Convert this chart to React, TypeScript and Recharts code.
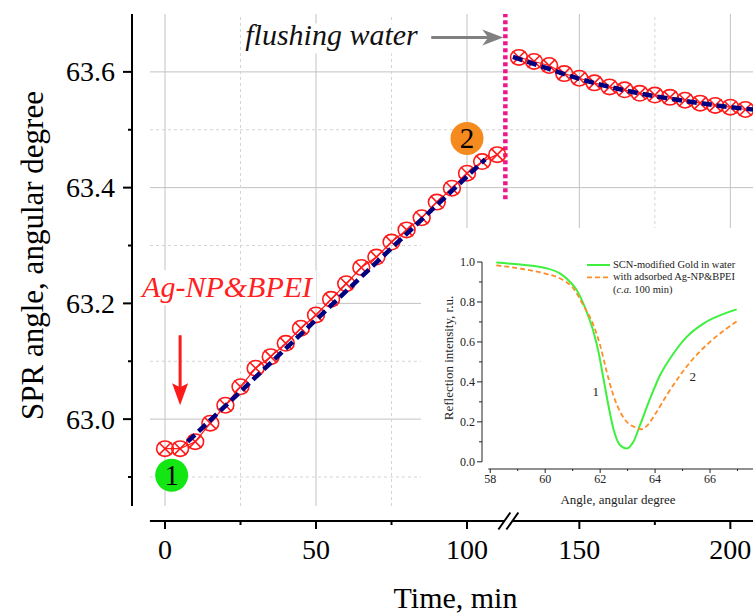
import React from "react";
import {
  ComposedChart,
  LineChart,
  Line,
  XAxis,
  YAxis,
  ReferenceLine,
  ReferenceDot,
  Legend,
} from "recharts";

const SERIF = '"Liberation Serif", "Times New Roman", Times, serif';

// SPR angle during Ag-NP&BPEI adsorption
const timeAdsorb = [0, 5, 10, 15, 20, 25, 30, 35, 40, 45, 50, 55, 60, 65, 70, 75, 80, 85, 90, 95, 100, 105, 110];
const angleAdsorb = [
  62.949, 62.949, 62.961, 62.993, 63.024, 63.056, 63.088, 63.108, 63.131, 63.157, 63.18, 63.207,
  63.234, 63.262, 63.28, 63.306, 63.327, 63.348, 63.375, 63.399, 63.425, 63.445, 63.457,
];

// SPR angle after flushing with water
const timeFlush = [130, 135, 140, 145, 150, 155, 160, 165, 170, 175, 180, 185, 190, 195, 200, 205];
const angleFlush = [
  63.625, 63.618, 63.611, 63.597, 63.589, 63.581, 63.574, 63.569, 63.563, 63.56, 63.556, 63.551,
  63.546, 63.542, 63.539, 63.535,
];

// fitted trends (blue dashed)
const fitAdsorbTime = [7.5, 106];
const fitAdsorbAngle = [62.961, 63.449];
const fitFlushTime = [128, 140, 150, 160, 175, 190, 200, 212];
const fitFlushAngle = [63.626, 63.605, 63.588, 63.574, 63.558, 63.546, 63.539, 63.533];

const timeTicks = [0, 25, 50, 75, 100, 150, 175, 200];
const angleTicks = [62.9, 63.0, 63.1, 63.2, 63.3, 63.4, 63.5, 63.6];

// inset: reflection curves
const insetAngle1 = [
  58.22, 59.09, 60.0, 60.55, 60.91, 61.15, 61.39, 61.58, 61.76, 61.94, 62.12, 62.3, 62.48, 62.73,
  62.97, 63.21, 63.45, 63.82, 64.18, 64.67, 65.15, 65.76, 66.36, 66.97,
];
const insetRefl1 = [
  0.997, 0.987, 0.97, 0.942, 0.9, 0.859, 0.792, 0.725, 0.65, 0.55, 0.417, 0.283, 0.167, 0.083,
  0.067, 0.1, 0.183, 0.317, 0.433, 0.542, 0.625, 0.692, 0.733, 0.763,
];
const insetAngle2 = [
  58.22, 59.09, 60.0, 60.55, 61.03, 61.39, 61.76, 62.0, 62.24, 62.48, 62.73, 63.03, 63.3, 63.5,
  63.7, 63.94, 64.42, 64.91, 65.39, 66.0, 66.97,
];
const insetRefl2 = [
  0.983, 0.967, 0.942, 0.917, 0.867, 0.783, 0.683, 0.583, 0.45, 0.333, 0.25, 0.192, 0.172, 0.163,
  0.18, 0.225, 0.333, 0.433, 0.517, 0.6, 0.703,
];
const insetAngleTicks = [58, 59, 60, 61, 62, 63, 64, 65, 66, 67];
const insetReflTicks = [0, 0.1, 0.2, 0.3, 0.4, 0.5, 0.6, 0.7, 0.8, 0.9, 1.0];

const insetSeries = [
  { name: "SCN-modified Gold in water", color: "#3ef03e", width: 2, dash: undefined },
  { name: "with adsorbed Ag-NP&BPEI", color: "#ff8c26", width: 1.8, dash: "5 3" },
];

// axis break: minutes between BREAK_AT and BREAK_AT + BREAK_GAP are cut out
const BREAK_AT = 113.7;
const BREAK_GAP = 12.8;
const toAxis = (t: number) => (t > BREAK_AT ? t - BREAK_GAP : t);
const fromAxis = (d: number) => (d > BREAK_AT ? d + BREAK_GAP : d);

const X_DOMAIN = [-10.93, 200];
const Y_DOMAIN = [62.824, 63.7];
const GRID_X0 = -5;
const GRID_Y0 = 62.85;

const zip = (xs: number[], ys: number[]) => xs.map((t, i) => ({ d: toAxis(t), v: ys[i] }));
const adsorbData = zip(timeAdsorb, angleAdsorb);
const flushData = zip(timeFlush, angleFlush);
const fitAdsorbData = zip(fitAdsorbTime, fitAdsorbAngle);
const fitFlushData = zip(fitFlushTime, fitFlushAngle);

const curve1 = insetAngle1.map((a, i) => ({ a, r: insetRefl1[i] }));
const curve2 = insetAngle2.map((a, i) => ({ a, r: insetRefl2[i] }));

const isEvenTenth = (v: number) => Math.round(v * 10) % 2 === 0;

const MainXTick = ({ x, y, payload }: any) => {
  const t = Math.round(fromAxis(payload.value));
  const major = t % 50 === 0;
  return (
    <g>
      <line x1={x} x2={x} y1={y} y2={y + (major ? 8 : 4)} stroke="#000" strokeWidth={2} />
      {major && (
        <text x={x} y={y + 38} textAnchor="middle" fontFamily={SERIF} fontSize={28} fill="#000">
          {t}
        </text>
      )}
    </g>
  );
};

const MainYTick = ({ x, y, payload }: any) => {
  const major = isEvenTenth(payload.value);
  return (
    <g>
      <line x1={x - (major ? 9 : 4)} x2={x} y1={y} y2={y} stroke="#000" strokeWidth={2} />
      {major && (
        <text x={x - 17} y={y + 9.5} textAnchor="end" fontFamily={SERIF} fontSize={28} fill="#000">
          {payload.value.toFixed(1)}
        </text>
      )}
    </g>
  );
};

const InsetXTick = ({ x, y, payload }: any) => {
  const major = payload.value % 2 === 0;
  return (
    <g>
      <line x1={x} x2={x} y1={y} y2={y + (major ? 4 : 2)} stroke="#222" strokeWidth={1} />
      {major && (
        <text x={x} y={y + 14} textAnchor="middle" fontFamily={SERIF} fontSize={12} fill="#222">
          {payload.value}
        </text>
      )}
    </g>
  );
};

const InsetYTick = ({ x, y, payload }: any) => {
  const major = isEvenTenth(payload.value);
  return (
    <g>
      <line x1={x - (major ? 5 : 3)} x2={x} y1={y} y2={y} stroke="#222" strokeWidth={1} />
      {major && (
        <text x={x - 7} y={y + 4} textAnchor="end" fontFamily={SERIF} fontSize={12} fill="#222">
          {payload.value.toFixed(1)}
        </text>
      )}
    </g>
  );
};

const CrossedCircle = ({ cx, cy, index }: any) => {
  if (cx == null || cy == null) return <g key={`c-${index}`} />;
  return (
    <g key={`c-${index}`} stroke="#ff1a1a" strokeWidth={1.6} fill="none">
      <ellipse cx={cx} cy={cy} rx={8.4} ry={7.7} />
      <path d={`M${cx - 6.2},${cy - 6.2}L${cx + 6.2},${cy + 6.2}M${cx + 6.2},${cy - 6.2}L${cx - 6.2},${cy + 6.2}`} />
    </g>
  );
};

const AxisBreak = ({ cx, cy }: any) => (
  <g stroke="#000" strokeWidth={2}>
    <line x1={cx - 10} y1={cy + 8.5} x2={cx + 2} y2={cy - 8.5} />
    <line x1={cx - 2} y1={cy + 8.5} x2={cx + 10} y2={cy - 8.5} />
  </g>
);

const FlushNote = ({ cx, cy }: any) => (
  <g>
    <rect x={cx - 260} y={cy - 14} width={182} height={30} fill="#fff" />
    <text x={cx - 258} y={cy + 8} fontFamily={SERIF} fontStyle="italic" fontSize={30} fill="#111">
      flushing water
    </text>
    <line x1={cx - 72} y1={cy} x2={cx - 14} y2={cy} stroke="#808080" strokeWidth={3} />
    <path d={`M${cx},${cy}L${cx - 21},${cy - 8}L${cx - 15},${cy}L${cx - 21},${cy + 8}Z`} fill="#808080" />
  </g>
);

const InjectNote = ({ cx, cy }: any) => (
  <g>
    <rect x={cx - 40} y={cy - 135} width={176} height={35} fill="#fff" />
    <text x={cx - 38} y={cy - 108} fontFamily={SERIF} fontStyle="italic" fontSize={30} fill="#ff2020">
      Ag-NP&amp;BPEI
    </text>
    <line x1={cx} y1={cy - 70} x2={cx} y2={cy - 16} stroke="#ff1a1a" strokeWidth={3} />
    <path d={`M${cx},${cy}L${cx - 8},${cy - 22}L${cx},${cy - 18}L${cx + 8},${cy - 22}Z`} fill="#ff1a1a" />
  </g>
);

const badge = (text: string, color: string) => ({ cx, cy }: any) => (
  <g>
    <circle cx={cx} cy={cy} r={16.5} fill={color} />
    <text x={cx} y={cy + 10} textAnchor="middle" fontFamily={SERIF} fontSize={29} fill="#000">
      {text}
    </text>
  </g>
);

const curveTag = (text: string) => ({ cx, cy }: any) => (
  <text x={cx} y={cy + 4.5} textAnchor="middle" fontFamily={SERIF} fontSize={13} fill="#222">
    {text}
  </text>
);

const TimeTitle = ({ viewBox }: any) => {
  const vb = viewBox || { x: 132, y: 521, width: 637, height: 92 };
  return (
    <text x={vb.x + vb.width / 2 + 5} y={vb.y + 87} textAnchor="middle" fontFamily={SERIF} fontSize={30} fill="#000">
      Time, min
    </text>
  );
};

const AngleTitle = ({ viewBox }: any) => {
  const vb = viewBox || { x: 0, y: 14, width: 132, height: 507 };
  const cy = vb.y + vb.height / 2 - 12;
  return (
    <text x={43} y={cy} transform={`rotate(-90, 43, ${cy})`} textAnchor="middle" fontFamily={SERIF} fontSize={31} fill="#000">
      SPR angle, angular degree
    </text>
  );
};

const InsetXTitle = ({ viewBox }: any) => {
  const vb = viewBox || { x: 61, y: 241, width: 272, height: 39 };
  return (
    <text x={vb.x + vb.width / 2} y={vb.y + 35} textAnchor="middle" fontFamily={SERIF} fontSize={13} fill="#222">
      Angle, angular degree
    </text>
  );
};

const InsetYTitle = ({ viewBox }: any) => {
  const vb = viewBox || { x: 0, y: 34, width: 61, height: 207 };
  const cy = vb.y + vb.height / 2 - 7.5;
  return (
    <text x={32} y={cy} transform={`rotate(-90, 32, ${cy})`} textAnchor="middle" fontFamily={SERIF} fontSize={13} fill="#222">
      Reflection intensity, r.u.
    </text>
  );
};

const InsetLegend = () => (
  <svg width={175} height={44} style={{ display: "block" }}>
    {insetSeries.map((s, i) => (
      <g key={s.name}>
        <line x1={6} x2={29} y1={11 + i * 12.3} y2={11 + i * 12.3} stroke={s.color} strokeWidth={s.width} strokeDasharray={s.dash} />
        <text x={32} y={13.7 + i * 12.3} fontFamily={SERIF} fontSize={10.5} fill="#222">
          {s.name}
        </text>
      </g>
    ))}
    <text x={32} y={39.3} fontFamily={SERIF} fontSize={10.5} fill="#222">
      (<tspan fontStyle="italic">c.a.</tspan> 100 min)
    </text>
  </svg>
);

export default function App() {
  const xTicks = timeTicks.map(toAxis);
  return (
    <div style={{ position: "absolute", left: 0, top: 0, width: 753, height: 613, overflow: "hidden", background: "#fff" }}>
      <ComposedChart width={769} height={613} margin={{ top: 14, right: 0, bottom: 0, left: 0 }}>
        <XAxis
          type="number"
          dataKey="d"
          domain={X_DOMAIN}
          ticks={xTicks}
          interval={0}
          height={92}
          axisLine={false}
          tickLine={false}
          tickSize={0}
          tickMargin={0}
          tick={<MainXTick />}
          label={TimeTitle}
        />
        <YAxis
          type="number"
          domain={Y_DOMAIN}
          ticks={angleTicks}
          interval={0}
          width={132}
          axisLine={false}
          tickLine={false}
          tickSize={0}
          tickMargin={0}
          tick={<MainYTick />}
          label={AngleTitle}
        />

        {angleTicks.map((v) => (
          <ReferenceLine
            key={`h-${v}`}
            segment={[{ x: GRID_X0, y: v }, { x: X_DOMAIN[1], y: v }]}
            stroke={isEvenTenth(v) ? "#c2c2c2" : "#d4d4d4"}
            strokeWidth={1}
            strokeDasharray={isEvenTenth(v) ? undefined : "3 3"}
          />
        ))}
        {timeTicks.map((t) => (
          <ReferenceLine
            key={`v-${t}`}
            segment={[{ x: toAxis(t), y: GRID_Y0 }, { x: toAxis(t), y: Y_DOMAIN[1] }]}
            stroke={t % 50 === 0 ? "#c2c2c2" : "#d4d4d4"}
            strokeWidth={1}
            strokeDasharray={t % 50 === 0 ? undefined : "3 3"}
          />
        ))}

        <ReferenceDot x={112} y={63.6595} ifOverflow="visible" shape={FlushNote} />
        <ReferenceDot x={5} y={63.024} ifOverflow="visible" shape={InjectNote} />

        <ReferenceLine
          segment={[{ x: X_DOMAIN[0], y: GRID_Y0 }, { x: X_DOMAIN[0], y: Y_DOMAIN[1] }]}
          stroke="#000"
          strokeWidth={2}
          ifOverflow="visible"
        />
        <ReferenceLine
          segment={[{ x: GRID_X0, y: Y_DOMAIN[0] }, { x: BREAK_AT - 1.3, y: Y_DOMAIN[0] }]}
          stroke="#000"
          strokeWidth={2}
          ifOverflow="visible"
        />
        <ReferenceLine
          segment={[{ x: BREAK_AT + 1.3, y: Y_DOMAIN[0] }, { x: X_DOMAIN[1], y: Y_DOMAIN[0] }]}
          stroke="#000"
          strokeWidth={2}
          ifOverflow="visible"
        />
        <ReferenceDot x={BREAK_AT} y={Y_DOMAIN[0]} ifOverflow="visible" shape={AxisBreak} />

        <ReferenceLine
          segment={[{ x: 112.7, y: 63.38 }, { x: 112.7, y: 63.7 }]}
          stroke="#ee168c"
          strokeWidth={4.5}
          strokeDasharray="4 3"
          ifOverflow="visible"
        />

        <Line data={adsorbData} dataKey="v" name="adsorption" type="linear" stroke="#ff1a1a" strokeWidth={1.2} dot={CrossedCircle} isAnimationActive={false} />
        <Line data={flushData} dataKey="v" name="flushing" type="linear" stroke="#ff1a1a" strokeWidth={1.2} dot={CrossedCircle} isAnimationActive={false} />
        <Line data={fitAdsorbData} dataKey="v" name="fit adsorption" type="linear" stroke="#000080" strokeWidth={4.5} strokeDasharray="10 5" dot={false} isAnimationActive={false} zIndex={900} />
        <Line data={fitFlushData} dataKey="v" name="fit flushing" type="monotone" stroke="#000080" strokeWidth={4.5} strokeDasharray="10 5" dot={false} isAnimationActive={false} zIndex={900} />

        <ReferenceDot x={2.2} y={62.903} ifOverflow="visible" shape={badge("1", "#14e614")} />
        <ReferenceDot x={100} y={63.485} ifOverflow="visible" shape={badge("2", "#f58a1f")} />
      </ComposedChart>

      <div style={{ position: "absolute", left: 421, top: 228, width: 332, height: 280, background: "#fff", overflow: "hidden" }}>
        <LineChart width={340} height={280} margin={{ top: 34, right: 7, bottom: 0, left: 0 }}>
          <XAxis
            type="number"
            dataKey="a"
            domain={[57.7, 67.6]}
            ticks={insetAngleTicks}
            interval={0}
            height={39}
            axisLine={false}
            tickLine={false}
            tickSize={0}
            tickMargin={0}
            tick={<InsetXTick />}
            label={InsetXTitle}
          />
          <YAxis
            type="number"
            domain={[-0.036, 1.0]}
            ticks={insetReflTicks}
            interval={0}
            width={61}
            axisLine={false}
            tickLine={false}
            tickSize={0}
            tickMargin={0}
            tick={<InsetYTick />}
            label={InsetYTitle}
          />
          <ReferenceLine segment={[{ x: 57.7, y: 0 }, { x: 57.7, y: 1.0 }]} stroke="#222" strokeWidth={1} ifOverflow="visible" />
          <ReferenceLine segment={[{ x: 57.93, y: -0.036 }, { x: 67.6, y: -0.036 }]} stroke="#222" strokeWidth={1} ifOverflow="visible" />

          <Line data={curve1} dataKey="r" name={insetSeries[0].name} type="monotone" stroke={insetSeries[0].color} strokeWidth={insetSeries[0].width} dot={false} isAnimationActive={false} />
          <Line data={curve2} dataKey="r" name={insetSeries[1].name} type="monotone" stroke={insetSeries[1].color} strokeWidth={insetSeries[1].width} strokeDasharray={insetSeries[1].dash} dot={false} isAnimationActive={false} />

          <ReferenceDot x={61.84} y={0.35} ifOverflow="visible" shape={curveTag("1")} />
          <ReferenceDot x={65.37} y={0.425} ifOverflow="visible" shape={curveTag("2")} />

          <Legend
            layout="horizontal"
            verticalAlign="middle"
            align="center"
            content={InsetLegend}
            wrapperStyle={{ left: 160, top: 26, width: 175, height: 44 }}
          />
        </LineChart>
      </div>
    </div>
  );
}
